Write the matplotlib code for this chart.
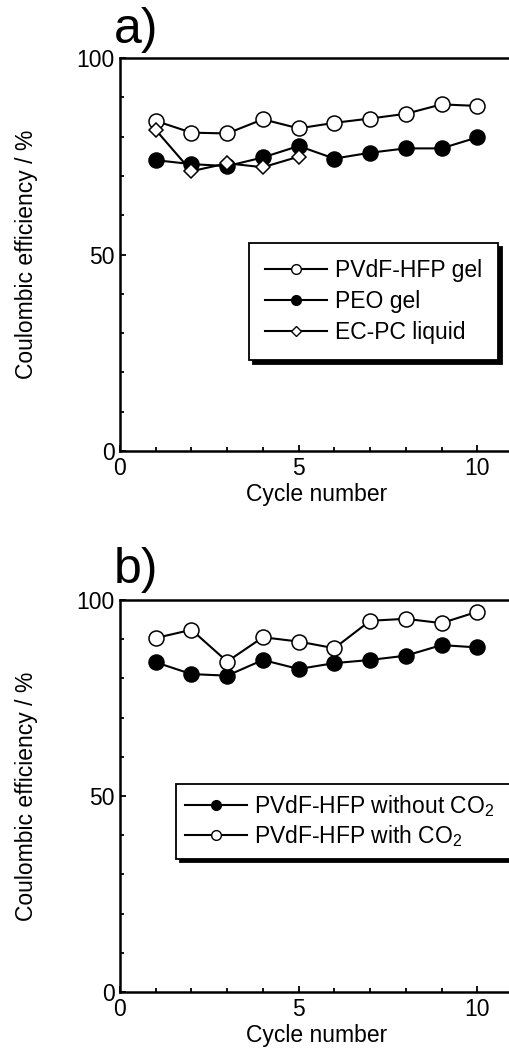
import matplotlib
matplotlib.use('Agg')
import matplotlib.pyplot as plt
from matplotlib.ticker import MultipleLocator

plt.rcParams['font.family'] = ['Liberation Sans', 'DejaVu Sans']
plt.rcParams['mathtext.fontset'] = 'custom'
plt.rcParams['mathtext.rm'] = 'Liberation Sans'
plt.rcParams['mathtext.default'] = 'regular'
plt.rcParams['font.size'] = 16.5

# panel a data
cycles = [1, 2, 3, 4, 5, 6, 7, 8, 9, 10]
pvdf_gel = [84.0, 81.0, 80.8, 84.4, 82.1, 83.5, 84.6, 85.8, 88.2, 87.8]
peo_gel = [74.0, 73.0, 72.5, 74.7, 77.6, 74.4, 75.9, 77.0, 77.0, 79.8]
ecpc_cycles = [1, 2, 3, 4, 5]
ecpc_liquid = [81.7, 71.2, 73.2, 72.2, 74.9]

# panel b data
no_co2 = [84.1, 81.1, 80.7, 84.7, 82.4, 83.9, 84.7, 85.8, 88.5, 87.9]
with_co2 = [90.3, 92.4, 84.3, 90.5, 89.4, 87.7, 94.7, 95.2, 94.1, 97.0]

W, H = 509, 1049
FS = 16.5
fig = plt.figure(figsize=(W / 100, H / 100), dpi=100)

ax_a = fig.add_axes([120 / W, (H - 451) / H, 393 / W, 393 / H])
ax_b = fig.add_axes([120 / W, (H - 992) / H, 393 / W, 392 / H])

line_kw = dict(color='black', lw=1.5, markersize=10.8, markeredgewidth=1.1,
               markeredgecolor='black')


def style_axes(ax):
    ax.set_xlim(0, 11)
    ax.set_ylim(0, 100)
    ax.xaxis.set_major_locator(MultipleLocator(5))
    ax.xaxis.set_minor_locator(MultipleLocator(1))
    ax.yaxis.set_major_locator(MultipleLocator(50))
    ax.yaxis.set_minor_locator(MultipleLocator(10))
    ax.tick_params(which='both', direction='in', top=False, right=False, width=1.3)
    ax.tick_params(which='major', length=4.5, pad=4, labelsize=FS)
    ax.tick_params(which='minor', length=3)
    ax.spines['right'].set_visible(False)
    for s in ('left', 'bottom', 'top'):
        ax.spines[s].set_linewidth(1.8)
    ax.set_xlabel('Cycle number', fontsize=FS)
    ax.set_ylabel('Coulombic efficiency / %', fontsize=FS)
    ax.xaxis.set_label_coords(0.5, -0.082)
    ax.yaxis.set_label_coords(-0.209, 0.5)


def finish_legend(leg, sizes):
    leg.get_frame().set_edgecolor('black')
    leg.get_frame().set_linewidth(1.3)
    for h, s in zip(leg.legend_handles, sizes):
        h.set_markersize(s)
        h.set_markeredgewidth(1.0)


shadow = {'ox': 2.8, 'oy': -2.8, 'facecolor': 'black', 'edgecolor': 'black', 'alpha': 1}
leg_kw = dict(loc='upper left', mode='expand', borderaxespad=0, frameon=True, fancybox=False,
              shadow=shadow, handlelength=2.7, fontsize=FS)

# a)
ax_a.plot(cycles, pvdf_gel, marker='o', markerfacecolor='white', label='PVdF-HFP gel', **line_kw)
ax_a.plot(cycles, peo_gel, marker='o', markerfacecolor='black', label='PEO gel', **line_kw)
ax_a.plot(ecpc_cycles, ecpc_liquid, marker='D', markerfacecolor='white', label='EC-PC liquid',
          **{**line_kw, 'markersize': 7.6})
style_axes(ax_a)
leg = ax_a.legend(bbox_to_anchor=(0.328, 0.239, 0.634, 0.29), handletextpad=0.35,
                  borderpad=0.7, labelspacing=0.35, **leg_kw)
finish_legend(leg, [7.0, 7.0, 5.2])

# b)
ax_b.plot(cycles, no_co2, marker='o', markerfacecolor='black', label='PVdF-HFP without CO$_2$', **line_kw)
ax_b.plot(cycles, with_co2, marker='o', markerfacecolor='white', label='PVdF-HFP with CO$_2$', **line_kw)
style_axes(ax_b)
leg = ax_b.legend(bbox_to_anchor=(0.1425, 0.334, 0.95, 0.197), handletextpad=0.3,
                  borderpad=0.4, labelspacing=0.2, **leg_kw)
finish_legend(leg, [7.0, 7.0])

fig.text(114 / W, 1 - 43 / H, 'a)', fontsize=36, va='baseline', ha='left')
fig.text(114 / W, 1 - 583 / H, 'b)', fontsize=36, va='baseline', ha='left')

fig.savefig('out.png', dpi=100)
